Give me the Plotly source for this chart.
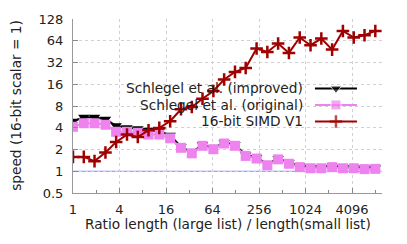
import plotly.graph_objects as go

# Ratio values (x)
ratio = [1, 1.38, 1.9, 2.63, 3.62, 5.0, 6.9, 9.5, 13.1, 18.1, 25.0, 34.5, 47.5, 65.6,
         90.5, 125, 172, 238, 328, 452, 624, 861, 1188, 1639, 2261, 3120, 4305, 5939, 8192]

simd_v1 = [1.58, 1.58, 1.38, 1.82, 2.54, 3.22, 2.98, 3.69, 3.98, 4.92, 7.21, 7.76, 10.1, 12.9,
           18.6, 23.7, 26.9, 49.9, 44.8, 58.5, 43.4, 70.9, 55.5, 68.7, 48.3, 87.5, 70.9, 76.3, 87.5]

schlegel_orig = [4.13, 4.62, 4.62, 4.40, 3.52, 3.52, 3.41, 3.22, 3.22, 2.86, 2.11, 1.77, 2.25, 2.02,
                 2.42, 2.25, 1.63, 1.50, 1.21, 1.46, 1.27, 1.14, 1.10, 1.10, 1.14, 1.10, 1.10, 1.07, 1.08]

schlegel_impr = [4.92, 5.59, 5.59, 5.25, 4.26, 4.0, 3.87, 3.69, 3.58, 3.15, 2.18, 1.83, 2.32, 2.08,
                 2.49, 2.32, 1.68, 1.55, 1.25, 1.50, 1.31, 1.17, 1.13, 1.13, 1.17, 1.13, 1.13, 1.10, 1.11]

x_ticks = [1, 4, 16, 64, 256, 1024, 4096]
x_minor = [2, 8, 32, 128, 512, 2048, 8192]
y_ticks = [0.5, 1, 2, 4, 8, 16, 32, 64, 128]
y_ticktext = ["0.5", "1", "2", "4", "8", "16", "32", "64", "128"]

names = ["Schlegel et al. (improved)", "Schlegel et al. (original)", "16-bit SIMD V1"]
colors = ["#000000", "#ee82ee", "#a00000"]
symbols = ["triangle-down", "square", "cross-thin"]
sizes = [10, 10, 9]

FONT = "DejaVu Sans"
TXT = "#222222"

fig = go.Figure()

series = [schlegel_impr, schlegel_orig, simd_v1]
for s, name, c, sym, sz in zip(series, names, colors, symbols, sizes):
    mk = dict(symbol=sym, size=sz, color=c)
    if sym == "cross-thin":
        mk["line"] = dict(color=c, width=2.5)
    fig.add_trace(go.Scatter(x=ratio, y=s, mode="lines+markers", name=name,
                             line=dict(color=c, width=2), marker=mk, showlegend=False))

# manual legend (text right-aligned, sample on right), drawn on an overlay axis
leg_y = [0.601, 0.506, 0.411]
for name, c, sym, sz, ly in zip(names, colors, symbols, sizes, leg_y):
    mk = dict(symbol=sym, size=[0, sz, 0], color=c)
    if sym == "cross-thin":
        mk["line"] = dict(color=c, width=2.5)
    fig.add_trace(go.Scatter(x=[0.783, 0.851, 0.919], y=[ly, ly, ly], xaxis="x2", yaxis="y2",
                             mode="lines+markers", line=dict(color=c, width=2), marker=mk,
                             showlegend=False, hoverinfo="skip"))
    fig.add_annotation(x=0.751, y=ly, xref="paper", yref="paper", text=name, showarrow=False,
                       xanchor="right", yanchor="middle", font=dict(family=FONT, size=13.7, color=TXT))

fig.add_shape(type="line", xref="paper", x0=0, x1=1, yref="y", y0=1, y1=1,
              line=dict(color="#8080ff", width=1), layer="between")

# axis titles as annotations
fig.add_annotation(x=0.5, y=-0.18, xref="paper", yref="paper", yanchor="middle", xanchor="center",
                   text="Ratio length (large list) / length(small list)", showarrow=False,
                   font=dict(family=FONT, size=13.7, color=TXT))
fig.add_annotation(x=-0.184, y=0.502, xref="paper", yref="paper", yanchor="middle", xanchor="center",
                   text="speed (16-bit scalar = 1)", showarrow=False, textangle=-90,
                   font=dict(family=FONT, size=13.7, color=TXT))

axis_font = dict(family=FONT, size=13, color=TXT)
common = dict(type="log", ticks="inside", ticklen=5, tickcolor="#888", showline=True, linecolor="#999",
              linewidth=1, showgrid=True, gridcolor="#d0d0d0", griddash="dot", gridwidth=1,
              zeroline=False, tickfont=axis_font, automargin=False)
# page body has an 8px default margin; the figure is sized so the plot lands where it should
fig.update_layout(
    width=399, height=236,
    margin=dict(l=65, r=25, t=11, b=51),
    plot_bgcolor="white", paper_bgcolor="white",
    font=dict(family=FONT, size=13, color=TXT),
    xaxis=dict(range=[0, 4], tickvals=x_ticks, ticktext=[str(v) for v in x_ticks],
               ticklabelstandoff=4,
               minor=dict(tickvals=x_minor, ticks="inside", ticklen=3, tickcolor="#888", showgrid=False),
               **common),
    yaxis=dict(range=[-0.30103, 2.10721], tickvals=y_ticks, ticktext=y_ticktext,
               ticklabelstandoff=6, **common),
    xaxis2=dict(overlaying="x", range=[0, 1], visible=False),
    yaxis2=dict(overlaying="y", range=[0, 1], visible=False),
)

fig.write_html("out.html")
